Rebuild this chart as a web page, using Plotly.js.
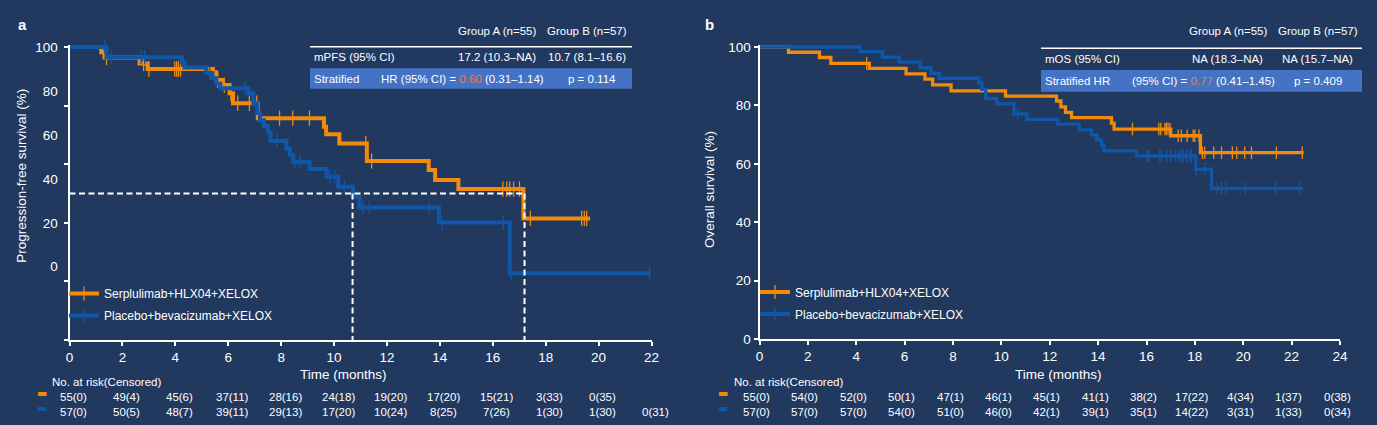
<!DOCTYPE html>
<html><head><meta charset="utf-8">
<script src="https://cdn.plot.ly/plotly-3.0.1.min.js"></script>
<style>html,body{margin:0;padding:0;background:#21385f;} #chart{width:1377px;height:425px;}</style>
</head><body><div id="chart"></div>
<script>
// ---------------- data ----------------
const groupNames = ['Serplulimab+HLX04+XELOX', 'Placebo+bevacizumab+XELOX'];

// PFS (panel a)
const pfsA_t = [0, 1.2, 1.32, 2.65, 2.95, 5.42, 5.55, 5.8, 6.05, 6.18, 7.12, 9.62, 9.7, 10.2, 11.24, 13.58, 13.82, 14.7, 17.16, 19.68];
const pfsA_s = [100, 98.2, 96.4, 94.4, 92.5, 91.4, 88.7, 87.0, 84.2, 80.8, 75.7, 72.8, 70.2, 67.1, 61.1, 58.0, 54.6, 51.5, 41.5, 41.5];
const pfsA_cens = [1.4, 2.8, 3.0, 3.98, 4.05, 4.12, 4.2, 5.6, 5.85, 6.1, 6.36, 6.8, 7.08, 7.94, 8.44, 9.07, 11.2, 11.42, 16.38, 16.53, 16.64, 16.79, 17.01, 17.42, 19.36, 19.46, 19.55];
const pfsB_t = [0, 1.4, 4.25, 4.35, 5.17, 5.4, 5.55, 5.7, 6.76, 6.95, 7.1, 7.2, 7.35, 7.5, 7.6, 8.2, 8.33, 8.45, 9.08, 9.72, 10.16, 10.71, 10.96, 13.96, 16.64, 21.93];
const pfsB_s = [100, 96.5, 94.7, 93.0, 91.1, 89.3, 87.5, 85.9, 84.2, 80.8, 77.5, 75.0, 73.0, 71.0, 67.9, 65.4, 63.1, 60.8, 58.4, 55.7, 52.3, 48.9, 45.2, 40.1, 22.8, 22.8];
const pfsB_cens = [1.34, 1.58, 2.7, 2.84, 5.3, 6.63, 7.84, 8.52, 8.71, 9.85, 10.03, 10.39, 11.1, 11.34, 13.6, 14.08, 16.4, 16.7, 21.93];
const pfsMedians = [17.2, 10.7];
const medianLevel = 50;

// OS (panel b)
const osA_t = [0, 1.2, 2.48, 2.95, 4.54, 6.06, 6.84, 7.16, 7.92, 10.17, 12.28, 12.46, 12.65, 12.9, 14.55, 14.66, 17.0, 18.23, 22.5];
const osA_s = [100, 98.2, 96.4, 94.4, 92.7, 90.8, 89.0, 87.0, 85.0, 83.2, 81.5, 79.5, 77.6, 75.8, 73.9, 71.9, 69.6, 63.8, 63.8];
const osA_cens = [4.43, 15.42, 16.51, 16.59, 16.76, 16.82, 16.89, 16.97, 17.31, 17.44, 17.68, 17.93, 18.0, 18.17, 18.31, 18.41, 18.78, 19.1, 19.55, 19.73, 20.06, 20.34, 21.37, 22.44];
const osB_t = [0, 4.16, 5.08, 5.77, 6.64, 7.09, 7.43, 9.07, 9.2, 9.35, 9.81, 10.52, 11.05, 12.33, 13.22, 13.73, 13.94, 14.14, 14.24, 15.59, 18.04, 18.69, 22.47];
const osB_s = [100, 98.4, 96.5, 94.8, 92.9, 91.0, 89.3, 87.6, 85.5, 82.4, 80.5, 77.1, 75.2, 73.6, 71.6, 69.9, 68.2, 66.4, 64.4, 62.7, 58.2, 51.6, 51.6];
const osB_cens = [10.67, 16.04, 16.11, 16.55, 16.62, 16.83, 17.01, 17.2, 17.34, 17.42, 17.52, 17.65, 17.8, 17.86, 18.06, 18.41, 18.92, 19.1, 19.28, 20.09, 21.33, 22.33];

// ticks
const pfsXTicks = [0, 2, 4, 6, 8, 10, 12, 14, 16, 18, 20, 22];
const osXTicks = [0, 2, 4, 6, 8, 10, 12, 14, 16, 18, 20, 22, 24];
const yTickVals = [0, 20, 40, 60, 80, 100];
const pfsYLabelVals = [25, 40, 55, 70, 85, 100];
const pfsYLabelText = ['0', '20', '40', '60', '80', '100'];
const osYLabelText = ['0', '20', '40', '60', '80', '100'];

// risk tables
const riskHeader = 'No. at risk(Censored)';
const pfsRiskA = ['55(0)', '49(4)', '45(6)', '37(11)', '28(16)', '24(18)', '19(20)', '17(20)', '15(21)', '3(33)', '0(35)'];
const pfsRiskB = ['57(0)', '50(5)', '48(7)', '39(11)', '29(13)', '17(20)', '10(24)', '8(25)', '7(26)', '1(30)', '1(30)', '0(31)'];
const osRiskA = ['55(0)', '54(0)', '52(0)', '50(1)', '47(1)', '46(1)', '45(1)', '41(1)', '38(2)', '17(22)', '4(34)', '1(37)', '0(38)'];
const osRiskB = ['57(0)', '57(0)', '57(0)', '54(0)', '51(0)', '46(0)', '42(1)', '39(1)', '35(1)', '14(22)', '3(31)', '1(33)', '0(34)'];

// summary tables
const tableHeaders = ['Group A (n=55)', 'Group B (n=57)'];
const pfsRow = ['mPFS (95% CI)', '17.2 (10.3–NA)', '10.7 (8.1–16.6)'];
const pfsHR = ['Stratified', 'HR (95% CI) = ', '0.60', ' (0.31–1.14)', 'p = 0.114'];
const osRow = ['mOS (95% CI)', 'NA (18.3–NA)', 'NA (15.7–NA)'];
const osHR = ['Stratified HR', '(95% CI) = ', '0.77', ' (0.41–1.45)', 'p = 0.409'];

// ---------------- style ----------------
const BG = '#21385f';
const ORANGE = '#f28a0a';
const BLUE = '#1157a8';
const HRCOL = '#ed7d31';
const BOX = '#4472c4';
const WHITE = '#ffffff';
const FONT = '"Liberation Sans", Arial, sans-serif';
const W = 1377, H = 425;
const px = v => v / W;
const py = v => 1 - v / H;

// plot-area geometry (pixels)
const L = {x0: 69.5, x1: 651.5, y0: 340, y100: 47};
const R = {x0: 759.5, x1: 1340, y0: 339, y100: 47};
const YTOP = 100.8;
function ydom(g) { const k = (g.y0 - g.y100) / 100; return [py(g.y0), py(g.y0 - YTOP * k)]; }

function levelAt(ts, ss, c) {
  let v = ss[0];
  for (let i = 0; i < ts.length; i++) { if (ts[i] <= c) v = ss[i]; }
  return v;
}

const traces = [];
function addCurve(ts, ss, cens, color, xa, ya, lw, ms) {
  traces.push({x: ts, y: ss, type: 'scatter', mode: 'lines', line: {shape: 'hv', color: color, width: lw},
    xaxis: xa, yaxis: ya, showlegend: false, hoverinfo: 'skip'});
  traces.push({x: cens, y: cens.map(c => levelAt(ts, ss, c)), type: 'scatter', mode: 'markers',
    marker: {symbol: 'line-ns-open', size: ms, color: color, line: {color: color, width: 1.3}},
    xaxis: xa, yaxis: ya, showlegend: false, hoverinfo: 'skip', cliponaxis: false});
}
addCurve(pfsA_t, pfsA_s, pfsA_cens, ORANGE, 'x', 'y', 4, 11);
addCurve(pfsB_t, pfsB_s, pfsB_cens, BLUE, 'x', 'y', 4, 10);
addCurve(osA_t, osA_s, osA_cens, ORANGE, 'x2', 'y2', 3.3, 9);
addCurve(osB_t, osB_s, osB_cens, BLUE, 'x2', 'y2', 3.3, 9);

// median dashed guides
const DASH = {color: WHITE, width: 2, dash: '6px,3.5px'};
traces.push({x: [0, Math.max(...pfsMedians)], y: [medianLevel, medianLevel], type: 'scatter', mode: 'lines', line: DASH, xaxis: 'x', yaxis: 'y', showlegend: false, hoverinfo: 'skip'});
pfsMedians.forEach(m => traces.push({x: [m, m], y: [medianLevel, 0], type: 'scatter', mode: 'lines', line: DASH, xaxis: 'x', yaxis: 'y', showlegend: false, hoverinfo: 'skip'}));

// legend entries
[[ORANGE, 0], [BLUE, 1]].forEach(([col, i]) => {
  ['legend', 'legend2'].forEach((lg, j) => {
    traces.push({x: [null], y: [null], type: 'scatter', mode: 'lines+markers', name: groupNames[i],
      line: {color: col, width: 4}, marker: {symbol: 'line-ns-open', size: 10, color: col, line: {color: col, width: 1.3}},
      xaxis: j ? 'x2' : 'x', yaxis: j ? 'y2' : 'y', legend: lg, legendgroup: 'g' + i + lg, showlegend: true});
  });
});

const ann = [];
const txt = (x, y, text, o = {}) => ann.push(Object.assign({xref: 'paper', yref: 'paper', x: x, y: y, text: text, showarrow: false,
  xanchor: 'left', yanchor: 'middle', font: {family: FONT, size: 11.5, color: WHITE}}, o));

// panel letters
txt(px(22), py(24.5), '<b>a</b>', {xanchor: 'center', font: {family: FONT, size: 15, color: WHITE}});
txt(px(709.5), py(24), '<b>b</b>', {xanchor: 'center', font: {family: FONT, size: 15, color: WHITE}});

// y titles
txt(px(21.7), py(176), 'Progression-free survival (%)', {xanchor: 'center', textangle: -90, font: {family: FONT, size: 13.5, color: WHITE}});
txt(px(710), py(190), 'Overall survival (%)', {xanchor: 'center', textangle: -90, font: {family: FONT, size: 13.5, color: WHITE}});
// x titles
txt(px(343), py(374), 'Time (months)', {xanchor: 'center', font: {family: FONT, size: 13.5, color: WHITE}});
txt(px(1058), py(374), 'Time (months)', {xanchor: 'center', font: {family: FONT, size: 13.5, color: WHITE}});

// risk tables
function riskTable(xa, rowsA, rowsB, ticks, headerX, symX, yA, yB, shift) {
  txt(px(headerX), py(yA - 15), riskHeader, {font: {family: FONT, size: 11.5, color: WHITE}});
  txt(px(symX), py(yA - 3), '▬', {xanchor: 'center', font: {family: 'DejaVu Sans', size: 11, color: ORANGE}});
  txt(px(symX), py(yB - 3), '▬', {xanchor: 'center', font: {family: 'DejaVu Sans', size: 11, color: BLUE}});
  rowsA.forEach((t, i) => ann.push({xref: xa, yref: 'paper', x: ticks[i], y: py(yA), text: t, showarrow: false, xanchor: 'center', yanchor: 'middle', xshift: shift, font: {family: FONT, size: 11.5, color: WHITE}}));
  rowsB.forEach((t, i) => ann.push({xref: xa, yref: 'paper', x: ticks[i], y: py(yB), text: t, showarrow: false, xanchor: 'center', yanchor: 'middle', xshift: shift, font: {family: FONT, size: 11.5, color: WHITE}}));
}
riskTable('x', pfsRiskA, pfsRiskB, pfsXTicks, 50, 42, 396.5, 411.5, 4);
riskTable('x2', osRiskA, osRiskB, osXTicks, 731.6, 723, 396.5, 411.5, -3);

// summary tables
const shapes = [];
function summary(g, row, hr) {
  txt(px(g.cA), py(g.yh), tableHeaders[0], {xanchor: 'center'});
  txt(px(g.cB), py(g.yh), tableHeaders[1], {xanchor: 'center'});
  shapes.push({type: 'line', xref: 'paper', yref: 'paper', x0: px(g.l), x1: px(g.r), y0: py(g.yl), y1: py(g.yl), line: {color: WHITE, width: 1.5}});
  txt(px(g.l + 2), py(g.y1), row[0]);
  txt(px(g.cA), py(g.y1), row[1], {xanchor: 'center'});
  txt(px(g.cB), py(g.y1), row[2], {xanchor: 'center'});
  shapes.push({type: 'rect', xref: 'paper', yref: 'paper', x0: px(g.l), x1: px(g.r), y0: py(g.b0), y1: py(g.b1), fillcolor: BOX, line: {width: 0}, layer: 'below'});
  const y2 = (g.b0 + g.b1) / 2;
  txt(px(g.l + 2), py(y2), hr[0]);
  txt(px(g.hx), py(y2), hr[1] + '<span style="color:' + HRCOL + '">' + hr[2] + '</span>' + hr[3]);
  txt(px(g.px), py(y2), hr[4]);
}
summary({cA: 497, cB: 587, yh: 31, l: 310, r: 632, yl: 46.7, y1: 57, b0: 68.3, b1: 88.7, hx: 379, px: 565.5}, pfsRow, pfsHR);
summary({cA: 1227.7, cB: 1317.8, yh: 31, l: 1041, r: 1362, yl: 48.3, y1: 59.3, b0: 70, b1: 91.7, hx: 1130, px: 1292.3}, osRow, osHR);

const axBase = {showgrid: false, zeroline: false, showline: true, linecolor: WHITE, linewidth: 2,
  ticks: 'outside', ticklen: 4, tickwidth: 2, tickcolor: WHITE, tickfont: {family: FONT, size: 13.5, color: WHITE}, fixedrange: true};

const layout = {
  width: W, height: H, margin: {l: 0, r: 0, t: 0, b: 0},
  paper_bgcolor: BG, plot_bgcolor: 'rgba(0,0,0,0)', showlegend: true, hovermode: false,
  xaxis: Object.assign({}, axBase, {domain: [px(L.x0), px(L.x1)], range: [0, 22], tickvals: pfsXTicks, anchor: 'y'}),
  yaxis: Object.assign({}, axBase, {domain: ydom(L), range: [0, YTOP], tickvals: yTickVals, showticklabels: false, anchor: 'x'}),
  yaxis3: Object.assign({}, axBase, {overlaying: 'y', anchor: 'x', side: 'left', range: [0, YTOP], showline: false,
    tickvals: pfsYLabelVals, ticktext: pfsYLabelText, tickcolor: 'rgba(0,0,0,0)', ticklabelstandoff: 4}),
  xaxis2: Object.assign({}, axBase, {domain: [px(R.x0), px(R.x1)], range: [0, 24], tickvals: osXTicks, anchor: 'y2'}),
  yaxis2: Object.assign({}, axBase, {domain: ydom(R), range: [0, YTOP], tickvals: yTickVals, ticktext: osYLabelText, anchor: 'x2'}),
  legend: {x: px(64), y: py(279), xanchor: 'left', yanchor: 'top', bgcolor: 'rgba(0,0,0,0)', font: {family: FONT, size: 12, color: WHITE}, tracegroupgap: 3, itemwidth: 30},
  legend2: {x: px(755), y: py(277.5), xanchor: 'left', yanchor: 'top', bgcolor: 'rgba(0,0,0,0)', font: {family: FONT, size: 12, color: WHITE}, tracegroupgap: 3, itemwidth: 30},
  annotations: ann, shapes: shapes
};
// dummy trace so yaxis3 renders its labels
traces.push({x: [null], y: [null], xaxis: 'x', yaxis: 'y3', type: 'scatter', mode: 'lines', showlegend: false, hoverinfo: 'skip'});

Plotly.newPlot('chart', traces, layout, {staticPlot: true, displayModeBar: false});
</script></body></html>
